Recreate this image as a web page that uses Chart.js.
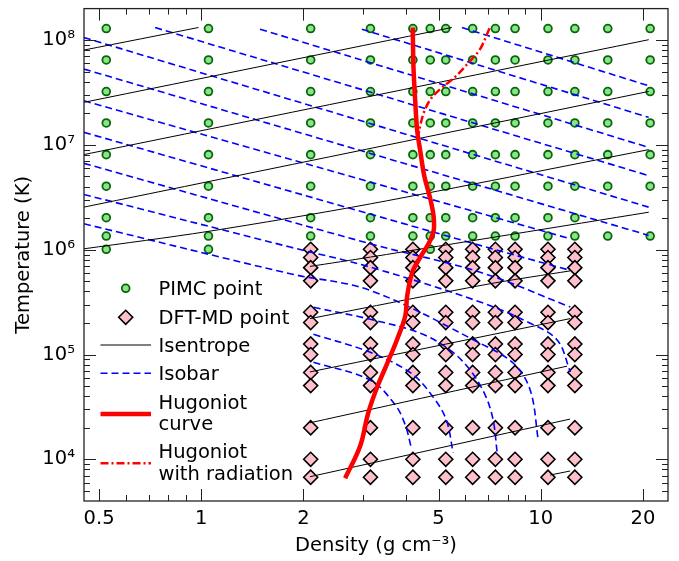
<!DOCTYPE html>
<html>
<head>
<meta charset="utf-8">
<script src="https://cdn.jsdelivr.net/npm/chart.js@4.4.0/dist/chart.umd.min.js"></script>
<style>
  html, body { margin: 0; padding: 0; background: #fff; }
</style>
</head>
<body>
<canvas id="phaseChart" width="679" height="561"></canvas>
<script>
/* --------- データ --------- */
// PIMC の計算点（密度 g/cc, 温度 K）
const pimcRho = [0.525, 1.05, 2.1, 3.15, 4.2, 4.725, 5.25, 6.3, 7.35, 8.4, 10.5, 12.6, 15.75, 21.0];
const pimcTemps = [1.29e8, 6.47e7, 3.23e7, 1.62e7, 8.08e6, 4.04e6, 2.02e6, 1.35e6, 1.01e6];
// 温度ごとに計算された密度（pimcTemps と同じ順）
const pimcRows = [
  pimcRho, pimcRho, pimcRho, pimcRho, pimcRho, pimcRho,
  [0.525, 1.05, 2.1, 3.15, 4.2, 4.725, 5.25, 6.3, 7.35, 8.4, 10.5, 12.6],
  pimcRho,
  [0.525, 1.05, 4.725],
];

// DFT-MD の計算点
const dftRho = [2.1, 3.15, 4.2, 5.25, 6.3, 7.35, 8.4, 10.5, 12.6];
const dftTemps = [1.01e6, 8.42e5, 6.74e5, 5.05e5, 2.53e5, 2.02e5, 1.26e5, 1.0e5, 6.74e4, 5.05e4, 2.0e4, 1.0e4, 6.74e3];

// 等エントロピー線
const isentropeRho = [
  [0.451, 0.981],
  [0.451, 5.47],
  [0.451, 20.8],
  [0.451, 20.8],
  [0.451, 1.04, 3.15, 20.8],
  [2.09, 3.15, 20.8],
  [2.09, 7.10, 12.2],
  [2.09, 12.2],
  [2.09, 11.95],
  [2.09, 12.2],
  [10.66, 12.2],
];
const isentropeT = [
  [8.04e7, 1.32e8],
  [2.55e7, 1.32e8],
  [8.09e6, 1.01e8],
  [2.55e6, 3.24e7],
  [1.02e6, 1.49e6, 2.74e6, 9.02e6],
  [6.93e5, 8.51e5, 2.28e6],
  [2.20e5, 4.74e5, 6.28e5],
  [6.82e4, 2.20e5],
  [2.23e4, 7.74e4],
  [6.82e3, 2.42e4],
  [7.08e3, 7.73e3],
];

// 等圧線
const isobarRho = [
  [5.86, 20.78],
  [2.97, 20.78],
  [1.49, 20.78],
  [0.731, 20.78],
  [0.451, 20.78],
  [0.451, 20.78],
  [0.451, 12.22],
  [0.451, 6.63, 12.22],
  [0.451, 3.145, 6.63, 12.22],
  [0.451, 1.827, 3.145, 6.63, 9.31, 11.19, 12.22],
  [0.451, 1.827, 3.145, 6.63, 8.30, 9.31, 9.83],
  [2.14, 3.145, 4.41, 5.41, 6.20, 6.86, 7.24, 7.44],
  [2.14, 3.145, 4.15, 4.82, 5.27, 5.52],
  [2.14, 3.145, 3.73, 3.99, 4.15],
];
const isobarT = [
  [1.318e8, 3.67e7],
  [1.273e8, 1.833e7],
  [1.273e8, 9.49e6],
  [1.318e8, 5.10e6],
  [1.059e8, 2.55e6],
  [5.30e7, 1.37e6],
  [2.64e7, 1.27e6],
  [1.32e7, 1.10e6, 6.35e5],
  [6.68e6, 1.14e6, 6.1e5, 2.84e5],
  [3.37e6, 1.06e6, 6.83e5, 3.17e5, 1.99e5, 1.37e5, 6.82e4],
  [1.77e6, 5.90e5, 4.09e5, 1.28e5, 8.26e4, 4.57e4, 1.53e4],
  [2.82e5, 2.17e5, 1.60e5, 1.10e5, 7.08e4, 4.10e4, 2.37e4, 1.15e4],
  [1.56e5, 1.05e5, 6.63e4, 3.92e4, 2.37e4, 1.15e4],
  [8.45e4, 5.69e4, 3.29e4, 2.12e4, 1.31e4],
];

// ユゴニオ曲線
const hugoniotRho = [4.196, 4.218, 4.267, 4.325, 4.414, 4.535, 4.724, 4.831, 4.838, 4.692, 4.414, 4.182, 4.043, 3.987, 3.776, 3.522, 3.297, 3.102, 2.938, 2.653];
const hugoniotT = [1.318e8, 5.48e7, 2.642e7, 1.37e7, 8.83e6, 5.10e6, 3.08e6, 2.12e6, 1.53e6, 1.17e6, 8.46e5, 6.08e5, 3.67e5, 2.32e5, 1.40e5, 8.09e4, 4.89e4, 2.76e4, 1.34e4, 6.59e3];

// 放射を含むユゴニオ曲線
const radRho = [7.065, 6.633, 6.198, 5.598, 5.056, 4.724, 4.535, 4.429, 4.369];
const radT = [1.30e8, 8.26e7, 6.35e7, 4.47e7, 3.41e7, 2.70e7, 2.07e7, 1.60e7, 1.28e7];

// 軸目盛
const xTickVals = [0.5, 1, 2, 5, 10, 20];
const xTickLabels = ["0.5", "1", "2", "5", "10", "20"];
const xMinorVals = [0.6, 0.7, 0.8, 0.9, 3, 4, 6, 7, 8, 9];
const yTickVals = [1e4, 1e5, 1e6, 1e7, 1e8];
const yTickLabels = ["10⁴", "10⁵", "10⁶", "10⁷", "10⁸"];

/* --------- ヘルパ --------- */
const FONT = '"DejaVu Sans", sans-serif';
const toPts = (rs, ts) => rs.map((r, i) => ({ x: r, y: ts[i] }));

const GREEN_FILL = "#88e688", GREEN_EDGE = "#0b650b";
const PINK_FILL = "#ffc0cb";
const ISOBAR_DASH = [7, 4];
const RAD_DASH = [8, 3, 2, 3];

function lineSet(label, data, color, width, dash, tension = 0) {
  return {
    label, data,
    showLine: true,
    borderColor: color,
    borderWidth: width,
    borderDash: dash,
    pointRadius: 0,
    pointHoverRadius: 0,
    tension,
    fill: false,
  };
}

/* --------- 枠と内向き目盛 --------- */
const frameTicks = {
  id: "frameTicks",
  afterDraw(chart) {
    const { ctx, chartArea: a, scales: { x, y } } = chart;
    ctx.save();
    ctx.strokeStyle = "#222";
    ctx.lineWidth = 1;
    ctx.beginPath();
    const vTick = (v, len) => {
      const px = Math.round(x.getPixelForValue(v)) + 0.5;
      ctx.moveTo(px, a.bottom); ctx.lineTo(px, a.bottom - len);
      ctx.moveTo(px, a.top); ctx.lineTo(px, a.top + len);
    };
    const hTick = (v, len) => {
      const py = Math.round(y.getPixelForValue(v)) + 0.5;
      ctx.moveTo(a.left, py); ctx.lineTo(a.left + len, py);
      ctx.moveTo(a.right, py); ctx.lineTo(a.right - len, py);
    };
    xTickVals.forEach((v) => vTick(v, 12));
    xMinorVals.forEach((v) => vTick(v, 6));
    yTickVals.forEach((v) => hTick(v, 12));
    for (let e = 3; e <= 8; e++) {
      for (let k = 2; k <= 9; k++) {
        const v = k * Math.pow(10, e);
        if (v > y.min && v < y.max) hTick(v, 6);
      }
    }
    ctx.stroke();
    ctx.lineWidth = 1.3;
    ctx.strokeRect(a.left, a.top, a.right - a.left, a.bottom - a.top);
    ctx.restore();
  },
};

/* --------- 凡例（枠内） --------- */
const innerLegend = {
  id: "innerLegend",
  afterDraw(chart) {
    const ctx = chart.ctx;
    const mx = 125.7, x0 = 100.5, x1 = 151, tx = 158.5;
    ctx.save();
    // マーカー
    ctx.lineWidth = 1.8;
    ctx.fillStyle = GREEN_FILL; ctx.strokeStyle = GREEN_EDGE;
    ctx.beginPath(); ctx.arc(mx, 288.3, 3.9, 0, 2 * Math.PI); ctx.fill(); ctx.stroke();
    ctx.fillStyle = PINK_FILL; ctx.strokeStyle = "#000"; ctx.lineWidth = 1.6;
    ctx.beginPath();
    ctx.moveTo(mx, 317.3 - 7); ctx.lineTo(mx + 7, 317.3);
    ctx.lineTo(mx, 317.3 + 7); ctx.lineTo(mx - 7, 317.3); ctx.closePath();
    ctx.fill(); ctx.stroke();
    // 線
    const seg = (yy, color, w, dash) => {
      ctx.beginPath(); ctx.strokeStyle = color; ctx.lineWidth = w; ctx.setLineDash(dash);
      ctx.moveTo(x0, yy); ctx.lineTo(x1, yy); ctx.stroke();
    };
    seg(345, "#000", 1, []);
    seg(373.3, "#0000ff", 1.6, ISOBAR_DASH);
    seg(414, "#ff0000", 4.5, []);
    seg(463.3, "#ff0000", 2.5, RAD_DASH);
    ctx.setLineDash([]);
    // テキスト
    ctx.fillStyle = "#000";
    ctx.font = "19.5px " + FONT;
    ctx.textBaseline = "alphabetic";
    ctx.fillText("PIMC point", tx, 295.3);
    ctx.fillText("DFT-MD point", tx, 324.2);
    ctx.fillText("Isentrope", tx, 351.9);
    ctx.fillText("Isobar", tx, 380.2);
    ctx.fillText("Hugoniot", tx, 408.5);
    ctx.fillText("curve", tx, 429.5);
    ctx.fillText("Hugoniot", tx, 458);
    ctx.fillText("with radiation", tx, 479.8);
    ctx.restore();
  },
};

/* --------- データセット --------- */
const pimcPts = pimcTemps.flatMap((t, i) => pimcRows[i].map((r) => ({ x: r, y: t })));
const dftPts = dftTemps.flatMap((t) => dftRho.map((r) => ({ x: r, y: t })));

const datasets = [
  lineSet("Hugoniot curve", toPts(hugoniotRho, hugoniotT), "#ff0000", 4.5, [], 0.35),
  lineSet("Hugoniot with radiation", toPts(radRho, radT), "#ff0000", 2.5, RAD_DASH, 0.35),
  ...isentropeRho.map((r, i) => lineSet("Isentrope", toPts(r, isentropeT[i]), "#000", 1, [], 0.3)),
  ...isobarRho.map((r, i) => lineSet("Isobar", toPts(r, isobarT[i]), "#0000ff", 1.6, ISOBAR_DASH, 0.35)),
  {
    label: "PIMC point", data: pimcPts,
    pointStyle: "circle", pointRadius: 3.9, pointBorderWidth: 1.8,
    pointBackgroundColor: GREEN_FILL, pointBorderColor: GREEN_EDGE,
  },
  {
    label: "DFT-MD point", data: dftPts,
    pointStyle: "rectRot", pointRadius: 7, pointBorderWidth: 1.6,
    pointBackgroundColor: PINK_FILL, pointBorderColor: "#000",
  },
];

/* --------- グラフ --------- */
Chart.defaults.font.family = FONT;
Chart.defaults.font.size = 19.5;
Chart.defaults.color = "#000";

new Chart(document.getElementById("phaseChart"), {
  type: "scatter",
  data: { datasets },
  plugins: [frameTicks, innerLegend],
  options: {
    responsive: false,
    animation: false,
    events: [],
    layout: { padding: { top: 7, right: 11, bottom: 0, left: 0 } },
    plugins: { legend: { display: false }, tooltip: { enabled: false } },
    scales: {
      x: {
        type: "logarithmic",
        min: 0.4514,
        max: 23.7,
        grid: { display: false, drawTicks: false },
        border: { display: false },
        afterBuildTicks: (s) => { s.ticks = xTickVals.map((v) => ({ value: v })); },
        afterFit: (s) => { s.height = 60; s.paddingLeft = 0; s.paddingRight = 0; },
        ticks: {
          autoSkip: false, maxRotation: 0, padding: 6,
          callback: (v, i) => xTickLabels[i],
        },
        title: { display: true, text: "Density (g cm⁻³)", padding: { top: 0, bottom: 3 } },
      },
      y: {
        type: "logarithmic",
        min: 4000,
        max: 2e8,
        grid: { display: false, drawTicks: false },
        border: { display: false },
        afterBuildTicks: (s) => { s.ticks = yTickVals.map((v) => ({ value: v })); },
        afterFit: (s) => { s.width = 84; s.paddingTop = 0; s.paddingBottom = 0; },
        ticks: {
          autoSkip: false, padding: 9,
          callback: (v, i) => yTickLabels[i],
        },
        title: { display: true, text: "Temperature (K)", padding: { top: 12, bottom: 0 } },
      },
    },
  },
});
</script>
</body>
</html>
